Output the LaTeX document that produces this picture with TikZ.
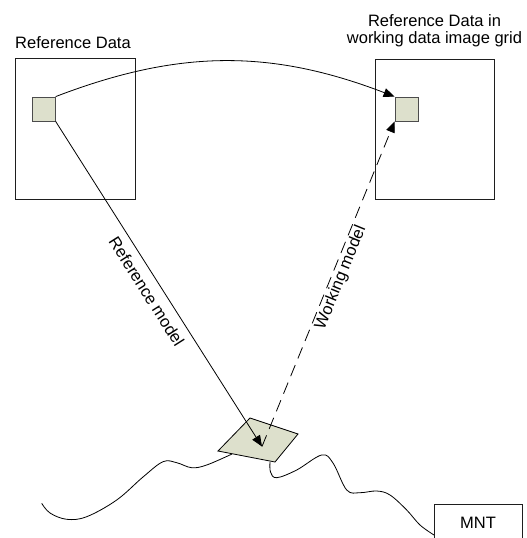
\documentclass[tikz,border=0pt]{standalone}
\usepackage{fontspec}
\setmainfont{Liberation Sans}
\usetikzlibrary{arrows.meta}

\definecolor{patch}{RGB}{221,224,204}
\definecolor{edge}{RGB}{30,30,30}

\begin{document}
\begin{tikzpicture}[x=1pt, y=-1pt,
  every node/.style={font=\fontsize{16.5}{16.7}\selectfont},
  frame/.style={draw=edge, line width=0.8pt, inner sep=0pt},
  patchbox/.style={draw=black!70, fill=patch, line width=0.8pt, inner sep=0pt,
    minimum width=23pt, minimum height=24pt},
  link/.style={draw=black, line width=0.8pt, -{Triangle[length=11pt,width=9pt]}},
  dashlink/.style={link, dash pattern=on 12pt off 7pt},
  caption/.style={inner sep=0pt}
]
\useasboundingbox (0,0) rectangle (527,538);

% image grids with their sample patches
\node[frame, minimum width=120pt, minimum height=141pt] (gridL) at (75,128.5) {};
\node[frame, minimum width=119pt, minimum height=140pt] (gridR) at (434.5,129) {};
\node[patchbox] (patchL) at (43.75,109) {};
\node[patchbox] (patchR) at (406.5,109) {};

% titles (base anchor of a multi-line node sits on its last line)
\node[caption, anchor=base] (titleL) at (73,48) {Reference Data};
\node[caption, anchor=base, align=center] (titleR) at (434.5,43.3)
  {Reference Data in\\working data image grid};

% terrain profile
\draw[line width=0.8pt] plot[smooth, tension=0.6] coordinates {
  (41.7,503.3) (50,513) (66.7,519.3) (86.7,516.7) (116.7,500) (143,477)
  (163,461.7) (176.7,462.7) (191.7,467.7) (206.7,465) (232,454)};
\draw[line width=0.8pt] plot[smooth, tension=0.6] coordinates {
  (270,462) (270.5,472) (276.7,477.7) (296.7,470) (321.7,455) (333,463)
  (346.7,490) (360,492.7) (376.7,491) (390,495) (406.7,510) (420,525)
  (434,535)};

% ground patch
\coordinate (g1) at (250,418);
\coordinate (g2) at (298,434);
\coordinate (g3) at (275,462);
\coordinate (g4) at (218,451);
\coordinate (hit) at (262,446.5);
\draw[fill=patch, line width=0.8pt] (g1) -- (g2) -- (g3) -- (g4) -- cycle;

% MNT box (cut by the lower edge)
\node[frame, anchor=north, minimum width=88pt, inner ysep=12pt,
  text height=12pt, text depth=30pt] (mnt) at (478,504) {MNT};

% projections
\draw[link] (patchL.north east) to[bend left=21] (patchR.north west);
\draw[link] (patchL.south east) -- node[pos=0.5, sloped, below=4.5pt] (refmodel)
  {Reference model} (hit);
\draw[dashlink] (hit) -- node[pos=0.53, sloped, below=-2pt] (workmodel)
  {Working model} (patchR.south west);
\end{tikzpicture}
\end{document}
